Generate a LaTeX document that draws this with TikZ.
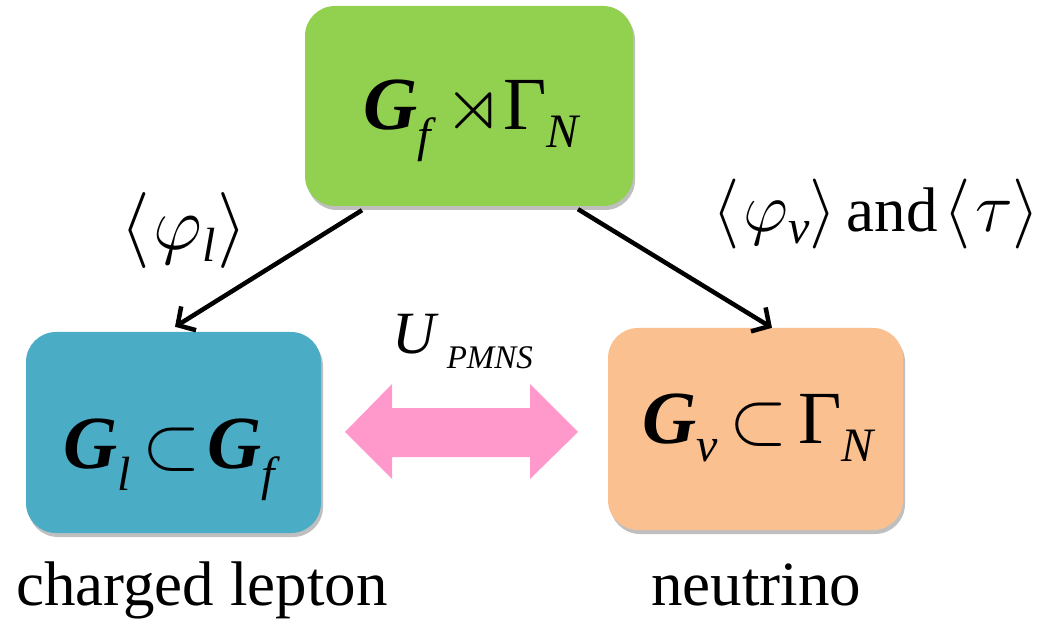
\RequirePackage{fix-cm}
\documentclass[tikz,border=0pt]{standalone}
\usepackage{amssymb}
\usepackage{fontspec}
\setmainfont{Liberation Serif}
\usetikzlibrary{shadows,arrows.meta}
\definecolor{boxgreen}{HTML}{92D050}
\definecolor{boxblue}{HTML}{4BACC6}
\definecolor{boxorange}{HTML}{FAC090}
\definecolor{arrowpink}{HTML}{FF99CC}
\newcommand{\bigfs}{\fontsize{75}{80}\selectfont}
\newcommand{\subsz}[2]{\raisebox{#1}{\fontsize{48}{50}\selectfont\itshape #2}}
\tikzset{
  box/.style={draw=none, rounded corners=30pt, inner sep=0pt,
    drop shadow={shadow xshift=2pt, shadow yshift=-4pt, opacity=0.25, fill=black}},
  conn/.style={line width=4.5pt, -{Straight Barb[length=13pt,width=28pt,line width=4.5pt]}},
  lbl/.style={inner sep=0pt, anchor=base west, text=black},
}
\begin{document}
\begin{tikzpicture}[x=1pt,y=-1pt]
\useasboundingbox (0,0) rectangle (1047,620);
% boxes
\node[box, fill=boxgreen, minimum width=328pt, minimum height=200pt] (top) at (469,106) {};
\node[box, fill=boxblue, minimum width=295pt, minimum height=201pt] (lep) at (173.5,432.5) {};
\node[box, fill=boxorange, minimum width=295pt, minimum height=202pt] (neu) at (755.5,429) {};
% box texts
\node[lbl] (toptxt) at (363,130) {\bigfs\textbf{\textit{G}}\subsz{-22pt}{f}\hspace{14pt}$\rtimes$Γ\subsz{-18pt}{N}};
\node[lbl] (leptxt) at (63,468) {\bigfs\textbf{\textit{G}}\subsz{-22pt}{l}\hspace{12pt}$\subset$\hspace{6pt}\textbf{\textit{G}}\subsz{-22pt}{f}};
\node[lbl] (neutxt) at (642,443) {\bigfs\textbf{\textit{G}}\subsz{-18pt}{ν}\hspace{12pt}$\subset$\hspace{10pt}Γ\subsz{-18pt}{N}};
% connectors
\draw[conn] ([xshift=-107pt,yshift=-4pt]top.south) -- ([xshift=1.5pt,yshift=5pt]lep.north);
\draw[conn] ([xshift=109pt,yshift=-3pt]top.south) -- ([xshift=16.5pt,yshift=0pt]neu.north);
% pink double arrow
\fill[arrowpink] (345,432) -- (392,384) -- (392,408) -- (530,408) -- (530,384) -- (578,432)
  -- (530,479) -- (530,457) -- (392,457) -- (392,479) -- cycle;
\node[lbl] (upmns) at (392,353) {\fontsize{60}{60}\selectfont\textit{U}\hspace{8pt}\raisebox{-15pt}{\fontsize{33}{33}\selectfont\textit{PMNS}}};
% arrow labels
\node[lbl] (philbl) at (120,250) {\fontsize{76}{80}\selectfont$\langle$\hspace{4pt}$\varphi$\subsz{-12pt}{l}\hspace{2pt}$\rangle$};
\node[lbl] (nulbl) at (712,232) {\fontsize{70}{80}\selectfont$\langle$\hspace{4pt}$\varphi$\subsz{-12pt}{ν}\hspace{0pt}$\rangle$\hspace{10pt}\fontsize{63}{70}\selectfont and\hspace{6pt}\fontsize{70}{80}\selectfont$\langle$\hspace{4pt}$\tau$\hspace{0pt}$\rangle$};
% captions
\node[lbl] (cap1) at (16,605) {\fontsize{63}{70}\selectfont charged lepton};
\node[lbl] (cap2) at (651,605) {\fontsize{63}{70}\selectfont neutrino};
\end{tikzpicture}
\end{document}
